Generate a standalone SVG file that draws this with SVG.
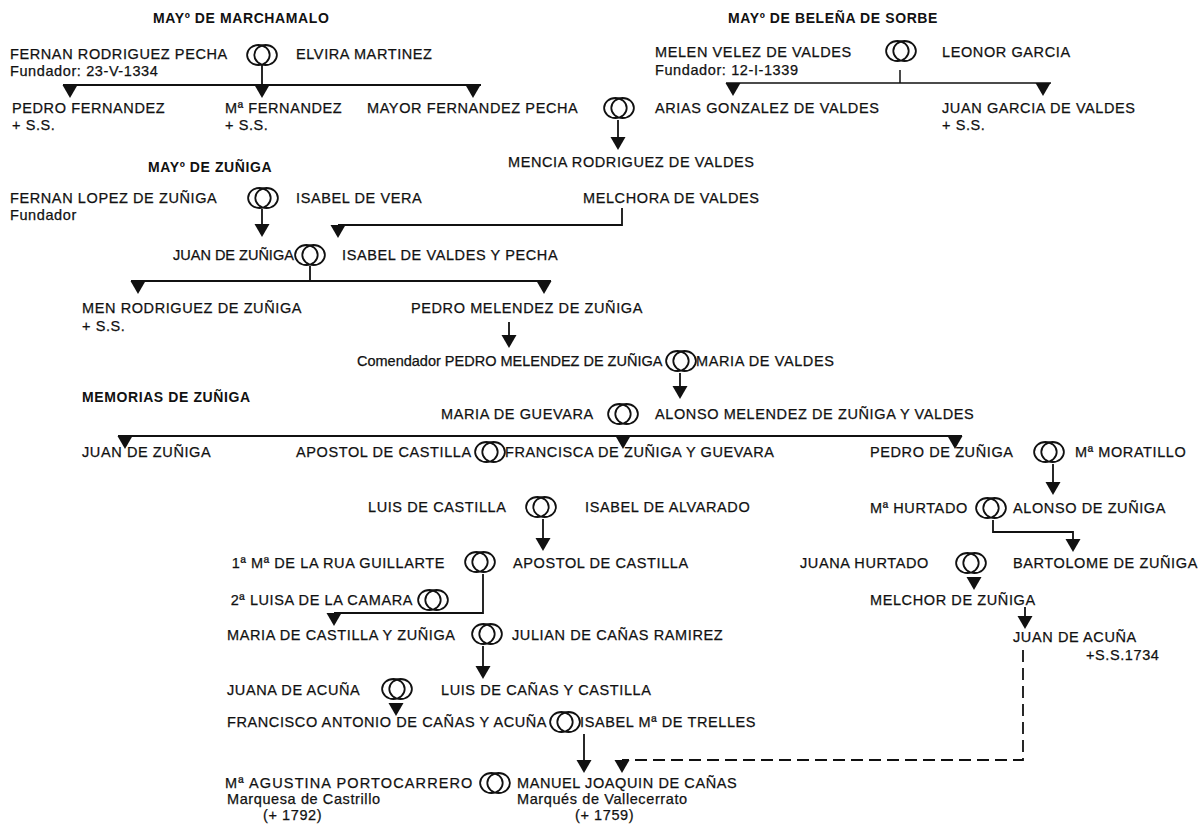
<svg xmlns="http://www.w3.org/2000/svg" xmlns:xlink="http://www.w3.org/1999/xlink" width="1200" height="829" viewBox="0 0 1200 829">
<style>
text{font-family:"Liberation Sans",Arial,Helvetica,sans-serif;font-size:14.5px;letter-spacing:0.6px;fill:#111;stroke:#111;stroke-width:0.25px}
.b{font-weight:bold;font-size:14px;stroke-width:0}
.ln{stroke:#111;stroke-width:1.8;fill:none}
.dash{stroke-dasharray:12 6}
.rg ellipse{fill:none;stroke:#111;stroke-width:1.8}
.tri{fill:#111}
</style>
<defs>
<g id="ring" class="rg"><ellipse cx="-3.6" cy="0" rx="11.3" ry="10"/><ellipse cx="3.6" cy="0" rx="11.3" ry="10"/></g>
<path id="tri" d="M-7.5,0 H7.5 L0,13 Z"/>
</defs>
<rect width="1200" height="829" fill="#fff"/>

<g id="titles">
<text class="b" x="153" y="23">MAYº DE MARCHAMALO</text>
<text class="b" x="728" y="23">MAYº DE BELEÑA DE SORBE</text>
<text class="b" x="148" y="172">MAYº DE ZUÑIGA</text>
<text class="b" x="82" y="402">MEMORIAS DE ZUÑIGA</text>
</g>

<g id="rings">
<use xlink:href="#ring" x="262" y="55"/>
<use xlink:href="#ring" x="901" y="51"/>
<use xlink:href="#ring" x="619" y="108"/>
<use xlink:href="#ring" x="263" y="198"/>
<use xlink:href="#ring" x="310" y="255"/>
<use xlink:href="#ring" x="681" y="361"/>
<use xlink:href="#ring" x="623" y="414"/>
<use xlink:href="#ring" x="490" y="452"/>
<use xlink:href="#ring" x="1049" y="452"/>
<use xlink:href="#ring" x="541" y="507"/>
<use xlink:href="#ring" x="991" y="508"/>
<use xlink:href="#ring" x="480" y="562"/>
<use xlink:href="#ring" x="971" y="563"/>
<use xlink:href="#ring" x="433" y="600"/>
<use xlink:href="#ring" x="487" y="634"/>
<use xlink:href="#ring" x="397" y="689"/>
<use xlink:href="#ring" x="565" y="722"/>
<use xlink:href="#ring" x="495" y="783"/>
</g>

<g id="fernan-rodriguez"><text x="10" y="59">FERNAN RODRIGUEZ PECHA</text><text x="10" y="76">Fundador: 23-V-1334</text></g>
<g id="elvira-martinez"><text x="296" y="59">ELVIRA MARTINEZ</text></g>
<g id="pedro-fernandez"><text x="12" y="113">PEDRO FERNANDEZ</text><text x="12" y="130">+ S.S.</text></g>
<g id="ma-fernandez"><text x="225" y="113">Mª FERNANDEZ</text><text x="225" y="130">+ S.S.</text></g>
<g id="mayor-fernandez"><text x="367" y="113">MAYOR FERNANDEZ PECHA</text></g>
<g id="melen-velez"><text x="655" y="57">MELEN VELEZ DE VALDES</text><text x="655" y="75">Fundador: 12-I-1339</text></g>
<g id="leonor-garcia"><text x="942" y="57">LEONOR GARCIA</text></g>
<g id="arias-gonzalez"><text x="655" y="113">ARIAS GONZALEZ DE VALDES</text></g>
<g id="juan-garcia"><text x="942" y="113">JUAN GARCIA DE VALDES</text><text x="942" y="130">+ S.S.</text></g>
<g id="mencia-rodriguez"><text x="508" y="167">MENCIA RODRIGUEZ DE VALDES</text></g>
<g id="fernan-lopez"><text x="10" y="203">FERNAN LOPEZ DE ZUÑIGA</text><text x="10" y="220">Fundador</text></g>
<g id="isabel-vera"><text x="296" y="203">ISABEL DE VERA</text></g>
<g id="melchora-valdes"><text x="583" y="203">MELCHORA DE VALDES</text></g>
<g id="juan-zuniga-1"><text x="173" y="260" style="letter-spacing:0">JUAN DE ZUÑIGA</text></g>
<g id="isabel-valdes"><text x="342" y="260">ISABEL DE VALDES Y PECHA</text></g>
<g id="men-rodriguez"><text x="82" y="313">MEN RODRIGUEZ DE ZUÑIGA</text><text x="82" y="331">+ S.S.</text></g>
<g id="pedro-melendez"><text x="411" y="313">PEDRO MELENDEZ DE ZUÑIGA</text></g>
<g id="comendador"><text x="357" y="366" style="letter-spacing:0">Comendador PEDRO MELENDEZ DE ZUÑIGA</text></g>
<g id="maria-valdes"><text x="696" y="366">MARIA DE VALDES</text></g>
<g id="maria-guevara"><text x="441" y="419">MARIA DE GUEVARA</text></g>
<g id="alonso-melendez"><text x="655" y="419">ALONSO MELENDEZ DE ZUÑIGA Y VALDES</text></g>
<g id="juan-zuniga-2"><text x="82" y="457">JUAN DE ZUÑIGA</text></g>
<g id="apostol-1"><text x="296" y="457">APOSTOL DE CASTILLA</text></g>
<g id="francisca"><text x="505" y="457">FRANCISCA DE ZUÑIGA Y GUEVARA</text></g>
<g id="pedro-zuniga"><text x="870" y="457">PEDRO DE ZUÑIGA</text></g>
<g id="moratillo"><text x="1075" y="457">Mª MORATILLO</text></g>
<g id="luis-castilla"><text x="368" y="512">LUIS DE CASTILLA</text></g>
<g id="isabel-alvarado"><text x="585" y="512">ISABEL DE ALVARADO</text></g>
<g id="ma-hurtado"><text x="870" y="513">Mª HURTADO</text></g>
<g id="alonso-zuniga"><text x="1013" y="513">ALONSO DE ZUÑIGA</text></g>
<g id="rua-guillarte"><text x="445" y="568" text-anchor="end">1ª Mª DE LA RUA GUILLARTE</text></g>
<g id="apostol-2"><text x="513" y="568">APOSTOL DE CASTILLA</text></g>
<g id="juana-hurtado"><text x="800" y="568">JUANA HURTADO</text></g>
<g id="bartolome"><text x="1013" y="568">BARTOLOME DE ZUÑIGA</text></g>
<g id="luisa-camara"><text x="413" y="605" text-anchor="end">2ª LUISA DE LA CAMARA</text></g>
<g id="melchor"><text x="870" y="605">MELCHOR DE ZUÑIGA</text></g>
<g id="maria-castilla"><text x="227" y="640">MARIA DE CASTILLA Y ZUÑIGA</text></g>
<g id="julian-canas"><text x="512" y="640">JULIAN DE CAÑAS RAMIREZ</text></g>
<g id="juan-acuna"><text x="1013" y="642">JUAN DE ACUÑA</text><text x="1086" y="660">+S.S.1734</text></g>
<g id="juana-acuna"><text x="227" y="695">JUANA DE ACUÑA</text></g>
<g id="luis-canas"><text x="441" y="695">LUIS DE CAÑAS Y CASTILLA</text></g>
<g id="francisco-antonio"><text x="227" y="727">FRANCISCO ANTONIO DE CAÑAS Y ACUÑA</text></g>
<g id="isabel-trelles"><text x="580" y="727">ISABEL Mª DE TRELLES</text></g>
<g id="agustina"><text x="225" y="788" textLength="248" lengthAdjust="spacing">Mª AGUSTINA PORTOCARRERO</text><text x="227" y="804">Marquesa de Castrillo</text><text x="263" y="820">(+ 1792)</text></g>
<g id="manuel-joaquin"><text x="517" y="788">MANUEL JOAQUIN DE CAÑAS</text><text x="517" y="804">Marqués de Vallecerrato</text><text x="575" y="820">(+ 1759)</text></g>

<g id="connectors">
<path class="ln" d="M262,65 V85 M63,85 H481"/>
<use class="tri" xlink:href="#tri" x="70" y="85"/>
<use class="tri" xlink:href="#tri" x="262" y="85"/>
<use class="tri" xlink:href="#tri" x="473" y="85"/>
<path class="ln" d="M900,70 V83 M726,83 H1051" style="stroke-width:1.5"/>
<use class="tri" xlink:href="#tri" x="733" y="83"/>
<use class="tri" xlink:href="#tri" x="1043" y="83"/>
<path class="ln" d="M618,120 V137"/>
<use class="tri" xlink:href="#tri" x="618" y="137"/>
<path class="ln" d="M262,209 V224"/>
<use class="tri" xlink:href="#tri" x="262" y="224"/>
<path class="ln" d="M622,208 V225 H338"/>
<use class="tri" xlink:href="#tri" x="338" y="225"/>
<path class="ln" d="M310,266 V281 M131,281 H551"/>
<use class="tri" xlink:href="#tri" x="138" y="281"/>
<use class="tri" xlink:href="#tri" x="544" y="281"/>
<path class="ln" d="M509,322 V335"/>
<use class="tri" xlink:href="#tri" x="509" y="335"/>
<path class="ln" d="M680,373 V386"/>
<use class="tri" xlink:href="#tri" x="680" y="386"/>
<path class="ln" d="M118,436 H962"/>
<use class="tri" xlink:href="#tri" x="125" y="436"/>
<use class="tri" xlink:href="#tri" x="623" y="436"/>
<use class="tri" xlink:href="#tri" x="955" y="436"/>
<path class="ln" d="M1053,464 V482"/>
<use class="tri" xlink:href="#tri" x="1053" y="482"/>
<path class="ln" d="M543,519 V538"/>
<use class="tri" xlink:href="#tri" x="543" y="538"/>
<path class="ln" d="M993,520 V532 H1073 V539"/>
<use class="tri" xlink:href="#tri" x="1073" y="539"/>
<path class="ln" d="M483,574 V613 H334"/>
<use class="tri" xlink:href="#tri" x="334" y="613"/>
<use class="tri" xlink:href="#tri" x="974" y="577"/>
<path class="ln" d="M1025,607 V616"/>
<use class="tri" xlink:href="#tri" x="1025" y="616"/>
<path class="ln" d="M483,646 V666"/>
<use class="tri" xlink:href="#tri" x="483" y="666"/>
<use class="tri" xlink:href="#tri" x="396" y="703"/>
<path class="ln" d="M584,734 V760"/>
<use class="tri" xlink:href="#tri" x="584" y="760"/>
<path class="ln dash" d="M1023,650 V760 H622"/>
<use class="tri" xlink:href="#tri" x="622" y="760"/>
</g>
</svg>
